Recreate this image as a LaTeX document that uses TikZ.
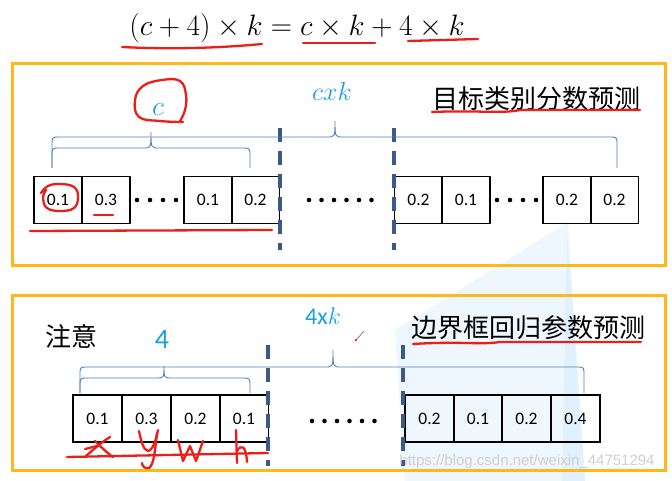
\RequirePackage{fix-cm}
\documentclass[tikz,border=0pt]{standalone}
\usepackage{fontspec}
\setmainfont{Carlito}
\newfontfamily\cjk{Noto Sans CJK SC}
\newfontfamily\wmfont{Liberation Sans}
\definecolor{frameor}{RGB}{255,184,28}
\definecolor{bracebl}{RGB}{79,129,189}
\definecolor{dashbl}{RGB}{60,90,135}
\definecolor{lblue}{RGB}{25,160,225}
\definecolor{pen}{RGB}{235,30,25}
\definecolor{bgtri}{RGB}{238,247,253}
\definecolor{bgtrib}{RGB}{224,240,252}
\definecolor{wmgray}{RGB}{208,208,208}
\newcommand\mybrace[6]{%
  \draw[brc] (#1,#4) -- (#1,#5+8) .. controls (#1,#5) .. (#1+8,#5) -- (#3-8,#5)
    .. controls (#3,#5) .. (#3,#6) .. controls (#3,#5) .. (#3+8,#5) -- (#2-8,#5)
    .. controls (#2,#5) .. (#2,#5+8) -- (#2,#4);}
\begin{document}
\begin{tikzpicture}[x=1pt,y=-1pt,
  cell/.style={draw=black, line width=1.6pt, minimum width=48pt, minimum height=47pt, inner sep=0pt, font=\fontsize{17.5}{19}\selectfont},
  cellb/.style={cell, minimum width=49pt},
  frm/.style={draw=frameor, line width=3pt},
  brc/.style={draw=bracebl, line width=0.9pt},
  dsh/.style={draw=dashbl, line width=3.2pt, dash pattern=on 14pt off 9pt},
  redpen/.style={draw=pen, line width=2.3pt, line cap=round, line join=round},
  dotf/.style={fill=black, circle, inner sep=0pt, minimum size=4.6pt},
  cjktxt/.style={font=\cjk\fontsize{26}{28}\selectfont, inner sep=0pt},
  bluetxt/.style={text=lblue, inner sep=0pt}]
\useasboundingbox (0,0) rectangle (672,481);
\fill[white] (0,0) rectangle (672,481);
% faint background shape
\fill[bgtri] (568,222) -- (585,481) -- (405,481) -- (395,330) -- cycle;
\fill[bgtrib] (567,232) -- (585,481) -- (562,481) -- cycle;

% equation
\node[inner sep=0pt, font=\fontsize{29.5}{31}\selectfont] (eq) at (297,28) {$(c+4)\times k=c\times k+4\times k$};
\draw[redpen] (122,47) .. controls (180,50) and (230,47) .. (262,44);
\draw[redpen] (303,43) -- (375,43);
\draw[redpen] (408,41) -- (478,39);

% ---------- top frame ----------
\draw[frm] (12,64) rectangle (665,265);
\node[cell] (a1) at (58,200) {0.1};
\node[cell] (a2) at (106,200) {0.3};
\node[cell] (a3) at (208,200) {0.1};
\node[cell] (a4) at (255.5,200) {0.2};
\node[cell] (a5) at (418.5,200) {0.2};
\node[cell] (a6) at (466,200) {0.1};
\node[cell] (a7) at (567,200) {0.2};
\node[cell] (a8) at (614.5,200) {0.2};
\foreach \x in {137,150,163,176} \node[dotf] at (\x,200) {};
\foreach \x in {309,321.5,334,346.5,359,371.5} \node[dotf] at (\x,200) {};
\foreach \x in {497,510,523,536} \node[dotf] at (\x,200) {};
\draw[dsh] (280,128) -- (280,250);
\draw[dsh] (394,128) -- (394,250);
\mybrace{52}{617}{335}{168}{137}{121}
\mybrace{52}{250}{151}{168}{148}{132}
\node[bluetxt, font=\fontsize{28}{30}\selectfont] (lc) at (158,109) {$c$};
\node[bluetxt, font=\fontsize{26}{28}\selectfont] (lck) at (332,91) {$cxk$};
\node[cjktxt] (t1) at (536,99) {目标类别分数预测};
\draw[redpen] (432,112) .. controls (480,110) and (500,114) .. (520,110) -- (640,110);
\draw[redpen] plot[smooth, tension=0.7] coordinates {(183,122) (160,121) (139,117) (135,100) (143,86) (162,80) (180,81) (186,95) (185,110) (180,121)};
\draw[redpen] plot[smooth, tension=0.7] coordinates {(41,193) (48,186) (60,184) (74,187) (78,197) (74,208) (60,211) (47,208) (43,198) (46,190)};
\draw[redpen] (94,215) -- (113,215);
\draw[redpen] (30,231) -- (272,230);

% ---------- bottom frame ----------
\draw[frm] (12,295) rectangle (665,470);
\node[cellb] (b1) at (97.5,418.5) {0.1};
\node[cellb] (b2) at (146.5,418.5) {0.3};
\node[cellb] (b3) at (195.5,418.5) {0.2};
\node[cellb] (b4) at (244,418.5) {0.1};
\node[cellb] (b5) at (429.5,418.5) {0.2};
\node[cellb] (b6) at (478,418.5) {0.1};
\node[cellb] (b7) at (526.5,418.5) {0.2};
\node[cellb] (b8) at (575.5,418.5) {0.4};
\foreach \x in {312,324.5,337,349.5,362,374.5} \node[dotf] at (\x,421) {};
\draw[dsh] (268,345) -- (268,466);
\draw[dsh] (403,345) -- (403,466);
\mybrace{80}{584}{333}{393}{367}{350}
\mybrace{80}{250}{164}{393}{378}{366}
\node[cjktxt] (zy) at (71,336) {注意};
\node[bluetxt, font=\fontsize{28}{30}\selectfont] (four) at (162,340) {4};
\node[bluetxt, font=\fontsize{24}{26}\selectfont] (fourk) at (323,316) {4x$k$};
\node[cjktxt] (t2) at (528,328) {边界框回归参数预测};
\draw[redpen] (413,344) .. controls (460,341) and (480,345) .. (500,342) -- (641,342);
% pencil cursor
\draw[gray, line width=0.8pt] (357,339) -- (364,331);
\fill[pen] (356,340) circle (1.3pt);
% handwriting x y w h
\draw[redpen] (67,457) -- (268,453);
\draw[redpen] (86,456) .. controls (95,448) and (102,442) .. (110,437);
\draw[redpen] (95,441) .. controls (100,446) and (106,452) .. (113,457);
\draw[redpen] (85,449) -- (97,446);
\draw[redpen] (139,431) .. controls (141,440) and (143,450) .. (148,451) .. controls (153,450) and (156,440) .. (158,430);
\draw[redpen] (157,433) .. controls (155,450) and (154,465) .. (149,468) .. controls (145,469) and (142,466) .. (142,463);
\draw[redpen] (178,440) -- (183,461) -- (190,446) -- (196,461) -- (203,441);
\draw[redpen] (236,430) -- (237,463);
\draw[redpen] (237,451) .. controls (241,444) and (246,445) .. (247,462);
% watermark
\node[text=wmgray, font=\wmfont\fontsize{15}{17}\selectfont, inner sep=0pt] (wm) at (527,462) {https://blog.csdn.net/weixin\_44751294};
\end{tikzpicture}
\end{document}
